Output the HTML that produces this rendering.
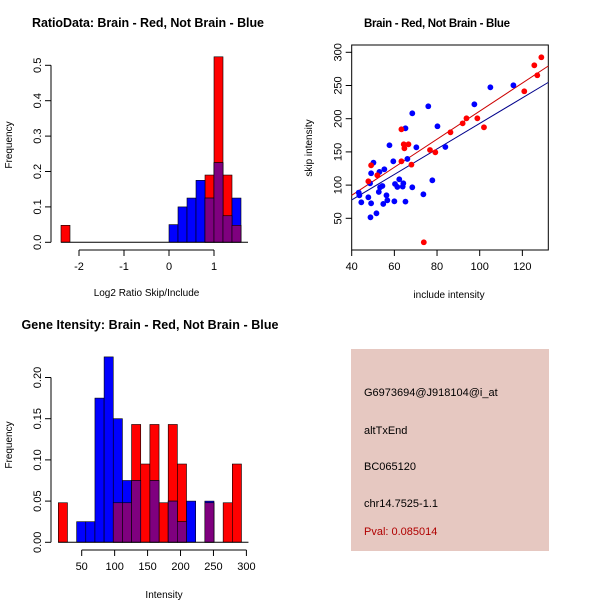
<!DOCTYPE html>
<html><head><meta charset="utf-8"><style>
html,body{margin:0;padding:0;background:#fff;}
svg{display:block;font-family:"Liberation Sans",Arial,sans-serif;}
.t{font-weight:bold;font-size:12.5px;}
.ax{font-size:11px;}
.lab{font-size:10px;}
</style></head><body>
<svg id="svg" width="600" height="600" xmlns="http://www.w3.org/2000/svg">
<rect width="600" height="600" fill="#fff"/>
<text class="t" x="148" y="27" text-anchor="middle" textLength="232">RatioData: Brain - Red, Not Brain - Blue</text>
<text class="t" x="437" y="27" text-anchor="middle" style="font-size:11.5px" textLength="146">Brain - Red, Not Brain - Blue</text>
<text class="t" x="150" y="329" text-anchor="middle" textLength="257">Gene Itensity: Brain - Red, Not Brain - Blue</text>
<g id="p1"></g>
<g id="p2"></g>
<g id="p3"></g>
<g>
<rect x="351" y="349" width="198" height="202" fill="#e6c8c1"/>
<text class="ax" x="364" y="396">G6973694@J918104@i_at</text>
<text class="ax" x="364" y="434">altTxEnd</text>
<text class="ax" x="364" y="470">BC065120</text>
<text class="ax" x="364" y="507">chr14.7525-1.1</text>
<text class="ax" x="364" y="535" fill="#b00000">Pval: 0.085014</text>
</g>
</svg>
<script>
// Ratio histogram data
const ratioBreaks = [-2.4,-2.2,-2.0,-1.8,-1.6,-1.4,-1.2,-1.0,-0.8,-0.6,-0.4,-0.2,0,0.2,0.4,0.6,0.8,1.0,1.2,1.4,1.6];
const ratioRed  = [0.048,0,0,0,0,0,0,0,0,0,0,0,0,0,0,0,0.19,0.524,0.19,0.048];
const ratioBlue = [0,0,0,0,0,0,0,0,0,0,0,0,0.05,0.1,0.125,0.175,0.125,0.225,0.075,0.125];
const ratioXTicks = [-2,-1,0,1];
const ratioYTicks = ["0.0","0.1","0.2","0.3","0.4","0.5"];
// Intensity histogram data
const intBreaks = [14.5,28.4,42.3,56.2,70.1,84.0,97.9,111.8,125.7,139.6,153.5,167.4,181.3,195.2,209.1,223.0,236.9,250.8,264.7,278.6,292.5];
const intRed  = [0.048,0,0,0,0,0,0.048,0.048,0.143,0.095,0.143,0.048,0.143,0.095,0,0,0.048,0,0.048,0.095];
const intBlue = [0,0,0.025,0.025,0.175,0.225,0.15,0.075,0.075,0,0.075,0,0.05,0.025,0.05,0,0.05,0,0,0];
const intXTicks = [50,100,150,200,250,300];
const intYTicks = ["0.00","0.05","0.10","0.15","0.20"];
// Scatter data
const redX = [49.1,47.8,52.0,63.3,63.3,64.4,64.7,66.6,68.0,73.8,76.7,79.2,86.3,92.0,93.8,98.9,102,120.9,125.6,127,128.9];
const redY = [129.8,105.7,114.8,184,135.8,161.4,155.4,161.4,130.8,13.9,152.9,149.4,179.5,193,200.6,200.6,187,241.3,280.4,265.4,292.5];
const blueX = [43.3,43.6,44.5,47.8,48.8,49.1,49.1,48.6,50.2,51.6,53,52.7,53.3,54.4,54.8,55.3,56.3,56.7,57.7,59.5,60,60.3,61.4,62.3,63.9,64.2,65.2,65.2,66.1,68.4,68.4,70.3,73.6,75.9,77.8,80.2,83.9,97.5,105,115.8];
const blueY = [88.7,84.6,74.1,81.6,51.5,117.8,72.6,102.7,133.8,57.5,119.8,89.7,96.7,98.7,71.6,123.8,84.6,77.1,160,135.8,75.6,101.7,97.2,108.7,97.7,102.7,75.1,185.5,139.4,208.1,96.7,156.9,86.1,218.7,107.2,188.6,157.4,221.7,247.3,250.3];
const fitRed = [0.1, 2.113];   // intercept, slope
const fitBlue = [0.7, 1.922];
const scXTicks = [40,60,80,100,120];
const scYTicks = [50,100,150,200,250,300];

const NS="http://www.w3.org/2000/svg";
function mk(parent, tag, attrs){const e=document.createElementNS(NS,tag);for(const k in attrs)e.setAttribute(k,attrs[k]);parent.appendChild(e);return e;}

function hist(g, breaks, red, blue, xs, ys, xTicks, yTicks, xLabel, xAxisY, yAxisX, xLabelY, prefix){
  red.forEach((v,i)=>{ if(v<=0) return;
    const r=mk(g,'rect',{x:xs(breaks[i]),y:ys(v),width:xs(breaks[i+1])-xs(breaks[i]),height:ys(0)-ys(v),fill:'#ff0000',stroke:'#000','stroke-width':0.6});
    
    
  });
  blue.forEach((v,i)=>{ if(v<=0) return;
    const r=mk(g,'rect',{x:xs(breaks[i]),y:ys(v),width:xs(breaks[i+1])-xs(breaks[i]),height:ys(0)-ys(v),fill:'#0000ff',stroke:'#000','stroke-width':0.6});
    
    
  });
  red.forEach((v,i)=>{ const m=Math.min(v,blue[i]); if(m<=0) return;
    const r=mk(g,'rect',{x:xs(breaks[i]),y:ys(m),width:xs(breaks[i+1])-xs(breaks[i]),height:ys(0)-ys(m),fill:'#7f007f',stroke:'#000','stroke-width':0.6});
    
    
  });
  mk(g,'line',{x1:xs(breaks[0]),x2:xs(breaks[breaks.length-1])+7,y1:ys(0),y2:ys(0),stroke:'#000'});
  const xa=mk(g,'g',{});
  
  
  mk(xa,'line',{x1:xs(xTicks[0]),x2:xs(xTicks[xTicks.length-1]),y1:xAxisY,y2:xAxisY,stroke:'#000'});
  xTicks.forEach(t=>{mk(xa,'line',{x1:xs(t),x2:xs(t),y1:xAxisY,y2:xAxisY+6,stroke:'#000'});
    const tx=mk(xa,'text',{x:xs(t),y:xAxisY+20,'text-anchor':'middle','class':'ax'});tx.textContent=t;});
  const xl=mk(g,'text',{x:(xs(xTicks[0])+xs(xTicks[xTicks.length-1]))/2,y:xLabelY,'text-anchor':'middle','class':'lab'});
  xl.textContent=xLabel;
  
  
  const ya=mk(g,'g',{});
  
  
  const yv=yTicks.map(Number);
  mk(ya,'line',{x1:yAxisX,x2:yAxisX,y1:ys(yv[0]),y2:ys(yv[yv.length-1]),stroke:'#000'});
  yTicks.forEach(t=>{const y=ys(Number(t));mk(ya,'line',{x1:yAxisX-6,x2:yAxisX,y1:y,y2:y,stroke:'#000'});
    const tx=mk(ya,'text',{x:yAxisX-10,y:y,'text-anchor':'middle','class':'ax',transform:`rotate(-90 ${yAxisX-10} ${y})`});tx.textContent=t;});
}

(function(){
  const g=document.getElementById('p1');
  const xs=v=>169+v*45.0, ys=v=>242.3-v*354;
  hist(g,ratioBreaks,ratioRed,ratioBlue,xs,ys,ratioXTicks,ratioYTicks,'Log2 Ratio Skip/Include',250,51,296,'ratio');
  const yl=mk(g,'text',{x:12,y:145,'text-anchor':'middle','class':'lab',transform:'rotate(-90 12 145)'});yl.textContent='Frequency';
  
  
})();
(function(){
  const g=document.getElementById('p3');
  const xs=v=>81.7+(v-50)*0.6588, ys=v=>542.3-v*824;
  hist(g,intBreaks,intRed,intBlue,xs,ys,intXTicks,intYTicks,'Intensity',550,51,598,'intensity');
  const yl=mk(g,'text',{x:12,y:445,'text-anchor':'middle','class':'lab',transform:'rotate(-90 12 445)'});yl.textContent='Frequency';
  
  
})();
(function(){
  const g=document.getElementById('p2');
  const xs=v=>351.7+(v-40)*2.1333, ys=v=>218.3-(v-50)*0.664;
  const L=351.7,R=548.3,T=45,B=250;
  mk(g,'rect',{x:L,y:T,width:R-L,height:B-T,fill:'none',stroke:'#000'});
  const xMin=40, xMax=(R-351.7)/2.1333+40;
  [[fitRed,'#cc0000','red-fit-line'],[fitBlue,'#00008b','blue-fit-line']].forEach(([f,c,n])=>{
    const ln=mk(g,'line',{x1:xs(xMin),y1:ys(f[0]+f[1]*xMin),x2:xs(xMax),y2:ys(f[0]+f[1]*xMax),stroke:c,'stroke-width':1});
    
    
  });
  blueX.forEach((x,i)=>{const c=mk(g,'circle',{cx:xs(x),cy:ys(blueY[i]),r:2.9,fill:'#0000ff'});
    
    });
  redX.forEach((x,i)=>{const c=mk(g,'circle',{cx:xs(x),cy:ys(redY[i]),r:2.9,fill:'#ff0000'});
    
    });
  const xa=mk(g,'g',{});
  
  
  scXTicks.forEach(t=>{mk(xa,'line',{x1:xs(t),x2:xs(t),y1:B,y2:B+6,stroke:'#000'});
    const tx=mk(xa,'text',{x:xs(t),y:B+20,'text-anchor':'middle','class':'ax'});tx.textContent=t;});
  const ya=mk(g,'g',{});
  
  
  scYTicks.forEach(t=>{const y=ys(t);mk(ya,'line',{x1:L-6,x2:L,y1:y,y2:y,stroke:'#000'});
    const tx=mk(ya,'text',{x:L-10,y:y,'text-anchor':'middle','class':'ax',transform:`rotate(-90 ${L-10} ${y})`});tx.textContent=t;});
  const xl=mk(g,'text',{x:449,y:298,'text-anchor':'middle','class':'lab'});xl.textContent='include intensity';
  
  
  const yl=mk(g,'text',{x:312,y:148,'text-anchor':'middle','class':'lab',transform:'rotate(-90 312 148)'});yl.textContent='skip intensity';
  
  
})();
</script>
</body></html>
